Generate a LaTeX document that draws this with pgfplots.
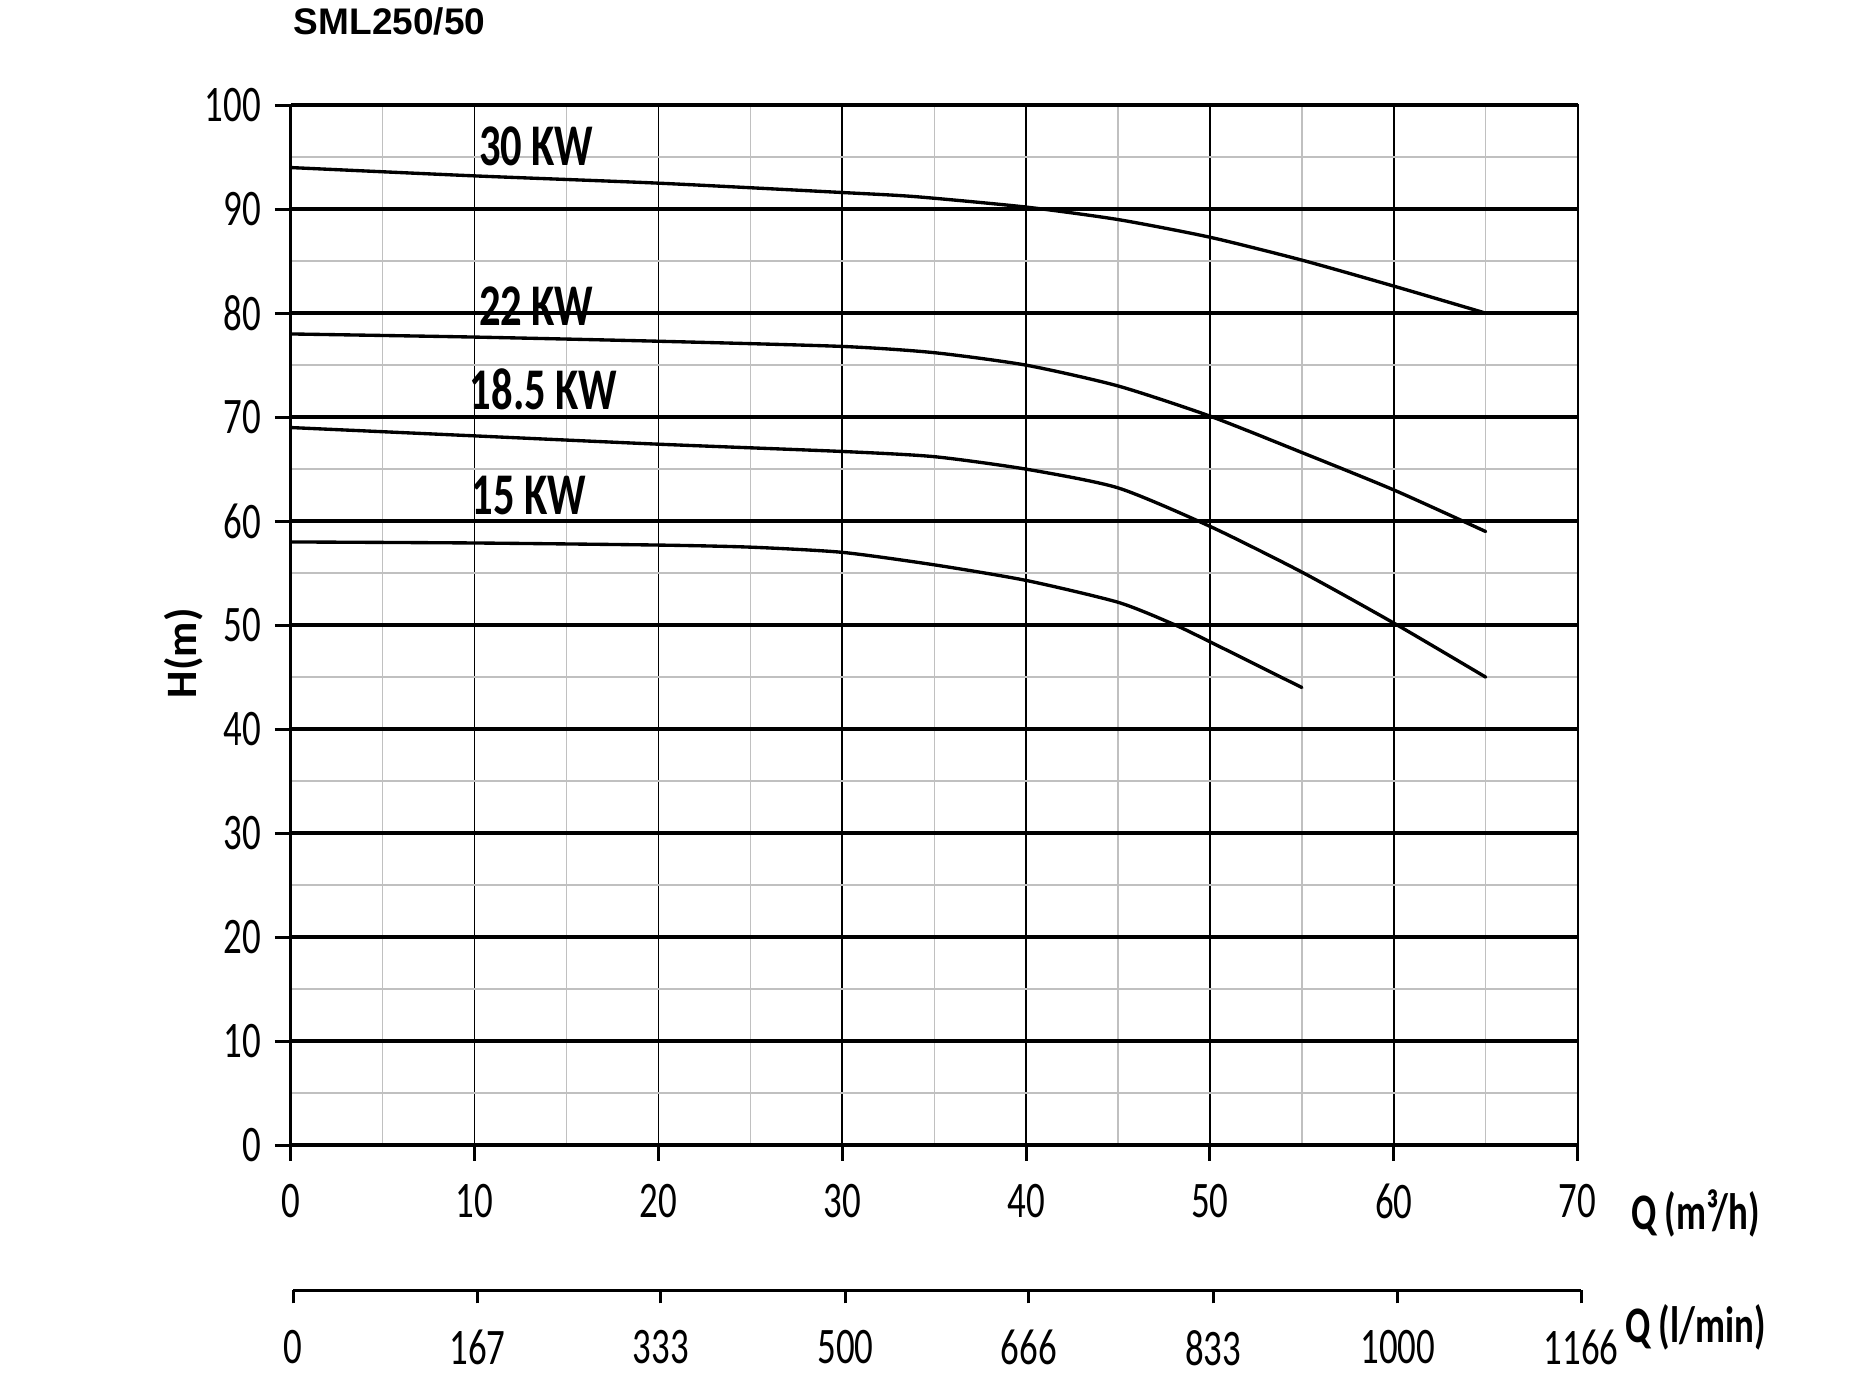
\documentclass[border=0pt]{standalone}
\usepackage{fontspec}
\setmainfont{Carlito}[FakeStretch=0.72]
\newfontfamily\plainfont{Carlito}
\newfontfamily\titlefont{Liberation Sans}
\usepackage{pgfplots}
\pgfplotsset{compat=1.18}
\definecolor{gridgray}{HTML}{C0C0C0}
\begin{document}
\begin{tikzpicture}[x=1pt,y=1pt]
\useasboundingbox (0,0) rectangle (470.4,350.3);
\node[anchor=west,font=\titlefont\bfseries\fontsize{9.4}{10}\selectfont,inner sep=0] at (74.4,344.9) {SML250/50};
\begin{axis}[
 at={(73.8pt,59.6pt)}, anchor=south west,
 scale only axis, width=326.7pt, height=264pt,
 xmin=0,xmax=70,ymin=0,ymax=100,
 xtick={0,10,...,70}, ytick={0,10,...,100},
 minor xtick={5,15,...,65}, minor ytick={5,15,...,95},
 grid=both,
 major x grid style={black,line width=0.43pt},
 major y grid style={black,line width=0.85pt},
 minor x grid style={gridgray,line width=0.33pt},
 minor y grid style={gridgray,line width=0.5pt},
 tick align=outside, tick pos=left,
 major tick length=4pt, minor tick length=0pt,
 tick style={black,line width=0.75pt},
 axis line style={black,line width=0.45pt},
 ticklabel style={font=\fontsize{13}{13}\selectfont},
 xticklabel style={yshift=-2.4pt},
 /pgf/number format/assume math mode=true,
 clip=false,
]
\addplot[black, line width=0.85pt, line cap=round, smooth, tension=0.4] coordinates {
(0,94) (10,93.2) (20,92.5) (30,91.6) (34,91.2) (40,90.2) (45,89) (50,87.3) (55,85.1) (60,82.6) (65,80)};
\addplot[black, line width=0.85pt, line cap=round, smooth, tension=0.4] coordinates {
(0,78) (10,77.7) (20,77.3) (30,76.8) (35,76.2) (40,75) (45,73) (50,70.1) (55,66.6) (60,63) (65,59)};
\addplot[black, line width=0.85pt, line cap=round, smooth, tension=0.4] coordinates {
(0,69) (10,68.2) (20,67.4) (30,66.7) (35,66.2) (40,65) (45,63.2) (50,59.5) (55,55.1) (60,50.2) (65,45)};
\addplot[black, line width=0.85pt, line cap=round, smooth, tension=0.4] coordinates {
(0,58) (10,57.9) (20,57.7) (25,57.5) (30,57) (35,55.8) (40,54.3) (45,52.2) (48,50.1) (50,48.4) (55,44)};
\draw[black,line width=0.9pt] (axis cs:0,0) -- (axis cs:0,100);
\draw[black,line width=0.85pt] (axis cs:0,0) -- (axis cs:70,0);
\node[font=\bfseries\fontsize{15}{15}\selectfont] at (axis cs:13.35,96.0) {30 KW};
\node[font=\bfseries\fontsize{15}{15}\selectfont] at (axis cs:13.35,80.7) {22 KW};
\node[font=\bfseries\fontsize{15}{15}\selectfont] at (axis cs:13.75,72.7) {18.5 KW};
\node[font=\bfseries\fontsize{15}{15}\selectfont] at (axis cs:12.95,62.5) {15 KW};
\node[font=\bfseries\fontsize{13}{13}\selectfont] at (axis cs:76.4,-6.6) {Q (m³/h)};
\node[font=\bfseries\fontsize{13}{13}\selectfont] at (axis cs:76.4,-17.5) {Q (l/min)};
\node[font=\plainfont\bfseries\fontsize{11}{11}\selectfont,rotate=90] at (axis cs:-5.8,47.3) {H(m)};
\end{axis}
\begin{axis}[
 at={(74.4pt,22.7pt)}, anchor=south west,
 scale only axis, width=327pt, height=1pt,
 xmin=0,xmax=1166,ymin=0,ymax=1,
 axis x line=bottom, axis y line=none,
 axis line style={-,black,line width=0.8pt},
 every outer x axis line/.append style={-},
 xtick={0,167,333,500,666,833,1000,1166},
 xticklabels={0,167,333,500,666,833,1000,1166},
 tick align=outside, major tick length=3.3pt,
 tick style={black,line width=0.75pt},
 ticklabel style={font=\fontsize{13}{13}\selectfont},
 xticklabel style={yshift=-3.3pt},
]
\end{axis}
\end{tikzpicture}
\end{document}
